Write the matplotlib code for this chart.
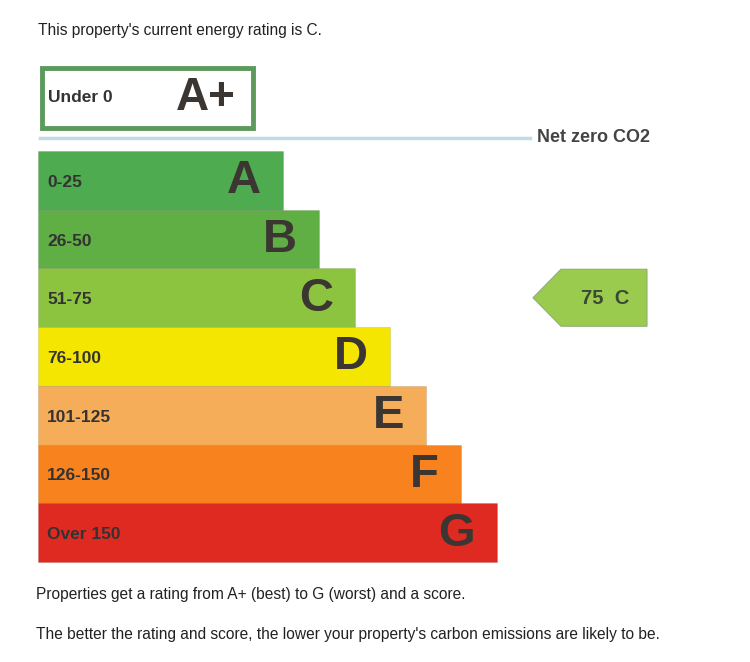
import matplotlib.pyplot as plt
from matplotlib.patches import Rectangle, Polygon

plt.rcParams['font.family'] = ['Liberation Sans', 'DejaVu Sans']

bands = ["A", "B", "C", "D", "E", "F", "G"]
ranges = ["0-25", "26-50", "51-75", "76-100", "101-125", "126-150", "Over 150"]
bar_right = [283, 319, 355, 390, 426, 461, 497]
colors = ["#4fab4f", "#5faf44", "#8cc43f", "#f4e600", "#f6ad5a", "#f8831e", "#de2a20"]
current_score = 75
current_band = "C"

fig = plt.figure(figsize=(7.5, 6.62), dpi=100)
ax = fig.add_axes([0, 0, 1, 1])
ax.set_xlim(0, 750)
ax.set_ylim(662, 0)
ax.axis("off")

left = 38
top0 = 151
h = 58.7
ys = [top0 + h * i + h / 2 for i in range(len(bands))]
ax.barh(ys, [r - left for r in bar_right], left=left, height=h, color=colors,
        edgecolor="#00000018", linewidth=0.8)
for y, r, b, rg in zip(ys, bar_right, bands, ranges):
    ax.text(r - 22, y + 1, b, ha="right", va="center", fontsize=34,
            fontweight="bold", color="#3b3632")
    ax.text(47, y + 2, rg, ha="left", va="center", fontsize=12.5,
            fontweight="bold", color="#333333")

# A+ box
ax.add_patch(Rectangle((42, 68), 211, 60, facecolor="white",
                       edgecolor="#5c9a5c", linewidth=3.5))
ax.text(48, 98, "Under 0", ha="left", va="center", fontsize=12.5,
        fontweight="bold", color="#333333")
ax.text(176, 98, "A+", ha="left", va="center", fontsize=33,
        fontweight="bold", color="#3b3632")

# net zero line
ax.plot([40, 530], [138, 138], color="#c2dbe2", linewidth=2.5)
ax.text(537, 138, "Net zero CO2", ha="left", va="center", fontsize=13,
        fontweight="bold", color="#444444")

# current rating arrow
ci = bands.index(current_band)
cy = ys[ci]
ax.add_patch(Polygon([[533, cy], [561, cy - 28.5], [647, cy - 28.5],
                      [647, cy + 28.5], [561, cy + 28.5]],
                     closed=True, facecolor="#9acb4e", edgecolor="#8fb070",
                     linewidth=0.8))
ax.text(605, cy + 1, f"{current_score}  {current_band}", ha="center",
        va="center", fontsize=14.5, fontweight="bold", color="#3d4a33")

ax.text(38, 30, "This property's current energy rating is C.", ha="left",
        va="center", fontsize=11.2, color="#222222")
ax.text(36, 595, "Properties get a rating from A+ (best) to G (worst) and a score.",
        ha="left", va="center", fontsize=11.2, color="#222222")
ax.text(36, 635, "The better the rating and score, the lower your property's carbon emissions are likely to be.",
        ha="left", va="center", fontsize=11.2, color="#222222")

fig.savefig("out.png", dpi=100)
